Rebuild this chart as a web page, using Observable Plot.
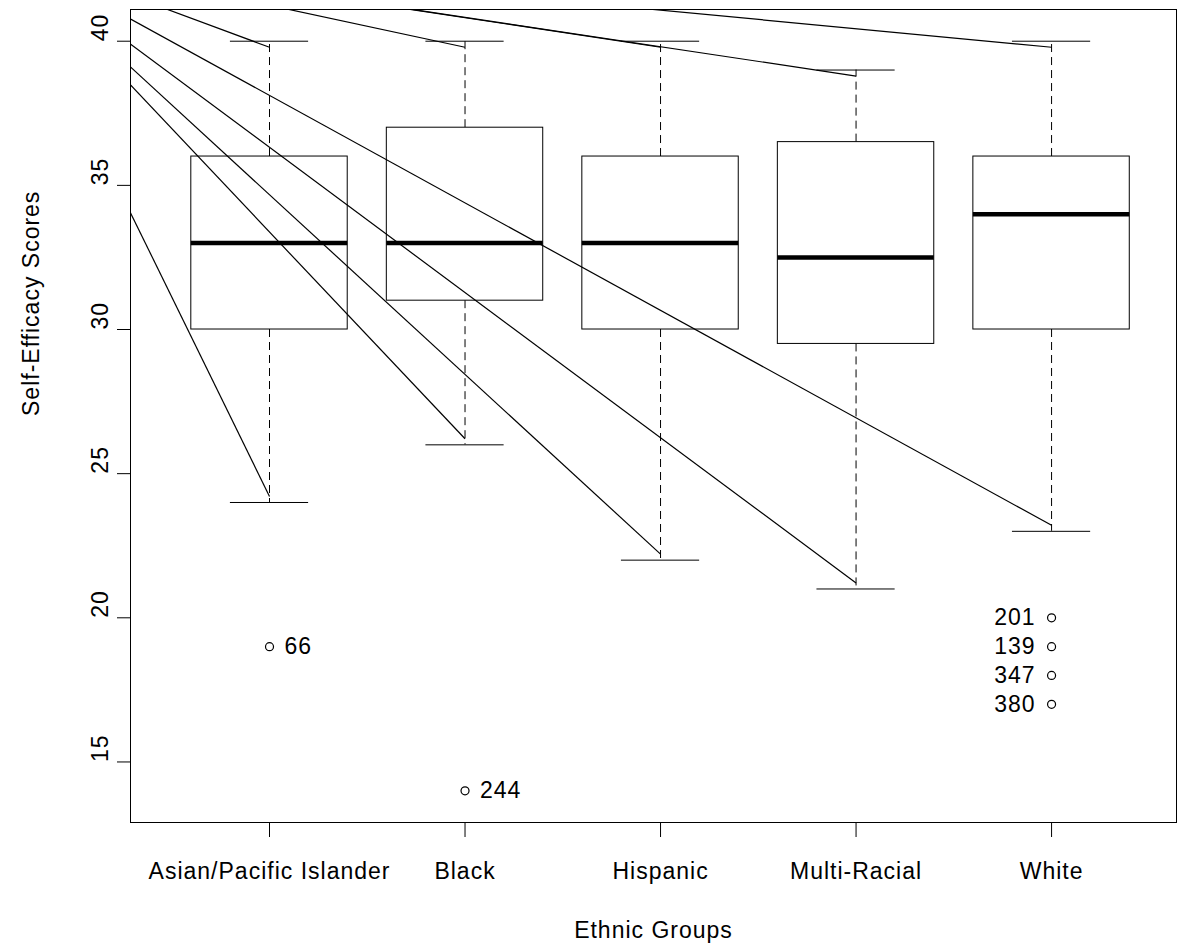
<!DOCTYPE html>
<html><head><meta charset="utf-8">
<script src="https://cdn.jsdelivr.net/npm/d3@7"></script>
<script src="https://cdn.jsdelivr.net/npm/@observablehq/plot@0.6"></script>
<style>
body{margin:0;background:#fff;}
svg text{letter-spacing:1px;}
</style></head><body><div id="chart"></div>
<script>
const groups = ["Asian/Pacific Islander","Black","Hispanic","Multi-Racial","White"];
const groupPos = [1,2,3,4,5];
const lowerWhisker = [24,26,22,21,23];
const q1 = [30,31,30,29.5,30];
const medians = [33,33,33,32.5,34];
const q3 = [36,37,36,36.5,36];
const upperWhisker = [40,40,40,39,40];
const outlierGroup = [1,2,5,5,5,5];
const outlierValue = [19,14,20,19,18,17];
const outlierLabel = ["66","244","201","139","347","380"];
const yTicks = [15,20,25,30,35,40];
// common start point of the leader lines, off the plot to the upper left
const leaderOriginX = -0.376;
const leaderOriginY = 43.25;

const boxes = groups.map((g,i)=>({g, pos: groupPos[i], lo: lowerWhisker[i], q1: q1[i], med: medians[i], q3: q3[i], hi: upperWhisker[i]}));
const outliers = outlierValue.map((v,i)=>({pos: outlierGroup[i], v, label: outlierLabel[i]}));
const leaders = boxes.flatMap(b => [{x: b.pos, y: b.hi - 0.21}, {x: b.pos, y: b.lo + 0.21}]);

const plot = Plot.plot({
  width: 1179, height: 951,
  marginLeft: 130, marginRight: 3, marginTop: 9, marginBottom: 129,
  style: {fontFamily: "'Liberation Sans', Arial, sans-serif", fontSize: "23px", color: "black", background: "white"},
  x: {type: "linear", domain: [0.289, 5.639]},
  y: {domain: [12.9, 41.1]},
  marks: [
    Plot.ruleX(boxes, {x: "pos", y1: "q3", y2: "hi", stroke: "black", strokeDasharray: "8,5"}),
    Plot.ruleX(boxes, {x: "pos", y1: "q1", y2: "lo", stroke: "black", strokeDasharray: "8,5"}),
    Plot.ruleY(boxes, {y: "hi", x1: d => d.pos - 0.2, x2: d => d.pos + 0.2, stroke: "black"}),
    Plot.ruleY(boxes, {y: "lo", x1: d => d.pos - 0.2, x2: d => d.pos + 0.2, stroke: "black"}),
    Plot.rect(boxes, {x1: d => d.pos - 0.4, x2: d => d.pos + 0.4, y1: "q1", y2: "q3", fill: "white", stroke: "black"}),
    Plot.ruleY(boxes, {y: "med", x1: d => d.pos - 0.4, x2: d => d.pos + 0.4, stroke: "black", strokeWidth: 4.5}),
    Plot.dot(outliers, {x: "pos", y: "v", r: 4, stroke: "black", fill: "none", strokeWidth: 1.2}),
    Plot.text(outliers.filter(d => d.pos !== 5), {x: "pos", y: "v", text: "label", textAnchor: "start", dx: 15, fill: "black"}),
    Plot.text(outliers.filter(d => d.pos === 5), {x: "pos", y: "v", text: "label", textAnchor: "end", dx: -16, fill: "black"}),
    Plot.link(leaders, {x1: () => leaderOriginX, y1: () => leaderOriginY, x2: "x", y2: "y", stroke: "black", strokeWidth: 1.2, clip: true}),
    Plot.frame({stroke: "black"}),
    Plot.axisX({ticks: groupPos, tickSize: 15, tickPadding: 25, tickFormat: i => groups[i - 1], label: null, fill: "black"}),
    Plot.axisY({ticks: yTicks, tickSize: 13, tickFormat: () => "", label: null}),
    Plot.text(yTicks, {y: d => d, text: d => String(d), frameAnchor: "left", dx: -30, rotate: -90, fill: "black"}),
    Plot.text(["Ethnic Groups"], {frameAnchor: "bottom", dy: 115, fill: "black"}),
    Plot.text(["Self-Efficacy Scores"], {frameAnchor: "left", dx: -99, rotate: -90, fill: "black"})
  ]
});
document.getElementById("chart").appendChild(plot);
</script></body></html>
